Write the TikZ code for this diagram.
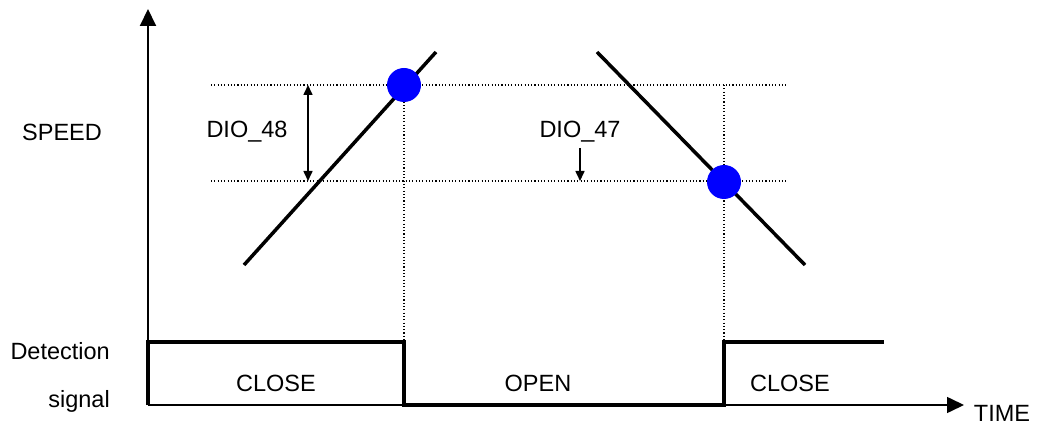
\documentclass[tikz,border=0pt]{standalone}
\usepackage{fontspec}
\setmainfont{Liberation Sans}
\usetikzlibrary{arrows.meta}
\begin{document}
\begin{tikzpicture}[x=1pt,y=-1pt,
  lbl/.style={font=\fontsize{23.5}{25}\selectfont, inner sep=0pt},
  axis/.style={line width=2pt, -{Triangle[width=16pt,length=17pt]}},
  dots/.style={line width=1.1pt, dash pattern=on 1.1pt off 2.2pt},
  slope/.style={line width=3.5pt},
  sig/.style={line width=3.5pt, line join=miter},
  dim/.style={line width=1.6pt},
  dot/.style={circle, fill=blue, minimum size=34pt, inner sep=0pt}]
\useasboundingbox (0,0) rectangle (1039,430);
% coordinates
\coordinate (O) at (148,405);
\coordinate (Ytop) at (148,9);
\coordinate (Xend) at (964,405);
\coordinate (HiL) at (211,85);
\coordinate (HiR) at (786,85);
\coordinate (LoL) at (211,181);
\coordinate (LoR) at (786,181);
\coordinate (V1t) at (404,85);
\coordinate (V1b) at (404,340);
\coordinate (V2top) at (724,85);
\coordinate (V2b) at (724,340);
\coordinate (R1) at (244,265);
\coordinate (R2) at (436,52);
\coordinate (F1) at (597,52);
\coordinate (F2) at (805,265);
\coordinate (S0) at (148,342);
\coordinate (S1) at (404,342);
\coordinate (S2) at (404,405);
\coordinate (S3) at (724,405);
\coordinate (S4) at (724,342);
\coordinate (S5) at (884,342);
\coordinate (D48t) at (308,85);
\coordinate (D48b) at (308,181);
\coordinate (D47t) at (580,148);
\coordinate (D47b) at (580,181);
% dotted guides
\draw[dots] (HiL) -- (HiR);
\draw[dots] (LoL) -- (LoR);
\draw[dots] (V1t) -- (V1b);
\draw[dots] (V2top) -- (V2b);
% axes
\draw[axis] (O) -- (Ytop);
\draw[axis, line width=1.6pt] (O) -- (Xend);
% speed lines
\draw[slope] (R1) -- (R2);
\draw[slope] (F1) -- (F2);
% detection signal
\draw[sig] (O) -- (S0) -- (S1) -- (S2) -- (S3) -- (S4) -- (S5);
% dimension arrows
\draw[dim, {Triangle[width=9pt,length=10pt]}-{Triangle[width=9pt,length=10pt]}] (D48t) -- (D48b);
\draw[dim, -{Triangle[width=9pt,length=10pt]}] (D47t) -- (D47b);
% blue dots
\node[dot] (c1) at (404,85) {};
\node[dot] (c2) at (724,182) {};
% labels
\node[lbl] (speed) at (62,132) {SPEED};
\node[lbl] (d48) at (247,132) {DIO\_48};
\node[lbl] (d47) at (580,132) {DIO\_47};
\node[lbl, anchor=east] (det) at (110,351) {Detection};
\node[lbl, anchor=east] (sigl) at (110,401) {signal};
\node[lbl] (close1) at (276,383) {CLOSE};
\node[lbl] (open) at (538,383) {OPEN};
\node[lbl] (close2) at (790,383) {CLOSE};
\node[lbl] (time) at (1002,413) {TIME};
\end{tikzpicture}
\end{document}
